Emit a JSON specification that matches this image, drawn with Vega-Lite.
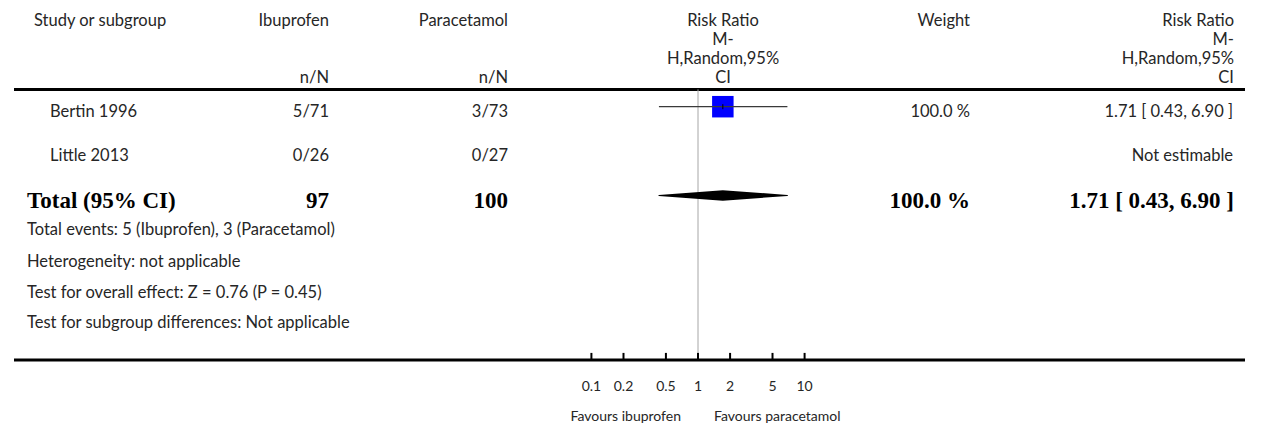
{
  "$schema": "https://vega.github.io/schema/vega-lite/v6.json",
  "padding": {"left": 12, "right": 29, "top": 0, "bottom": 0},
  "spacing": 0,
  "bounds": "flush",
  "background": "white",
  "config": {
    "view": {"stroke": null},
    "text": {"font": "Lato", "fontSize": 16.5, "color": "#262626", "baseline": "middle"}
  },
  "datasets": {
    "rules": [{"line": 4.6}, {"line": 18.84}],
    "headers": [
      {"col": "study", "line": 1, "text": "Study or subgroup"},
      {"col": "ibu", "line": 1, "text": "Ibuprofen"},
      {"col": "ibu", "line": 4, "text": "n/N"},
      {"col": "para", "line": 1, "text": "Paracetamol"},
      {"col": "para", "line": 4, "text": "n/N"},
      {"col": "forest", "line": 1, "text": "Risk Ratio"},
      {"col": "forest", "line": 2, "text": "M-"},
      {"col": "forest", "line": 3, "text": "H,Random,95%"},
      {"col": "forest", "line": 4, "text": "CI"},
      {"col": "weight", "line": 1, "text": "Weight"},
      {"col": "ci", "line": 1, "text": "Risk Ratio"},
      {"col": "ci", "line": 2, "text": "M-"},
      {"col": "ci", "line": 3, "text": "H,Random,95%"},
      {"col": "ci", "line": 4, "text": "CI"}
    ],
    "studies": [
      {"study": "Bertin 1996", "ibu": "5/71", "para": "3/73", "weight": "100.0 %", "ci": "1.71 [ 0.43, 6.90 ]", "rr": 1.71, "lo": 0.43, "hi": 6.90, "line": 5.8},
      {"study": "Little 2013", "ibu": "0/26", "para": "0/27", "weight": "", "ci": "Not estimable", "line": 8.1}
    ],
    "total": [
      {"study": "Total (95% CI)", "ibu": "97", "para": "100", "weight": "100.0 %", "ci": "1.71 [ 0.43, 6.90 ]", "rr": 1.71, "lo": 0.43, "hi": 6.90, "line": 10.5}
    ],
    "diamond": [
      {"rr": 0.43, "w": 0, "line": 10.5},
      {"rr": 1.71, "w": 1, "line": 10.5},
      {"rr": 6.90, "w": 0, "line": 10.5}
    ],
    "notes": [
      {"line": 12.0, "text": "Total events: 5 (Ibuprofen), 3 (Paracetamol)"},
      {"line": 13.7, "text": "Heterogeneity: not applicable"},
      {"line": 15.3, "text": "Test for overall effect: Z = 0.76 (P = 0.45)"},
      {"line": 16.9, "text": "Test for subgroup differences: Not applicable"}
    ],
    "refline": [{"rr": 1}],
    "ticks": [
      {"rr": 0.1, "label": "0.1"},
      {"rr": 0.2, "label": "0.2"},
      {"rr": 0.5, "label": "0.5"},
      {"rr": 1, "label": "1"},
      {"rr": 2, "label": "2"},
      {"rr": 5, "label": "5"},
      {"rr": 10, "label": "10"}
    ],
    "favours": [
      {"rr": 1, "side": "left", "text": "Favours ibuprofen"},
      {"rr": 1, "side": "right", "text": "Favours paracetamol"}
    ]
  },
  "hconcat": [
    {
      "width": 248, "height": 427,
      "layer": [
        {"data": {"name": "rules"}, "mark": {"type": "rule", "strokeWidth": 3, "color": "black"},
         "encoding": {"y": {"field": "line", "type": "quantitative", "scale": {"domain": [-0.105, 22.37], "reverse": true, "nice": false, "zero": false}, "axis": null}}},
        {"data": {"name": "headers"}, "transform": [{"filter": "datum.col === 'study'"}],
         "mark": {"type": "text", "align": "left", "dx": 20},
         "encoding": {"x": {"value": 0}, "y": {"field": "line", "type": "quantitative"}, "text": {"field": "text"}}},
        {"data": {"name": "studies"},
         "mark": {"type": "text", "align": "left", "dx": 36},
         "encoding": {"x": {"value": 0}, "y": {"field": "line", "type": "quantitative"}, "text": {"field": "study"}}},
        {"data": {"name": "total"},
         "mark": {"type": "text", "align": "left", "dx": 13, "font": "Liberation Serif", "fontWeight": "bold", "fontSize": 23, "color": "black"},
         "encoding": {"x": {"value": 0}, "y": {"field": "line", "type": "quantitative"}, "text": {"field": "study"}}},
        {"data": {"name": "notes"},
         "mark": {"type": "text", "align": "left", "dx": 13},
         "encoding": {"x": {"value": 0}, "y": {"field": "line", "type": "quantitative"}, "text": {"field": "text"}}}
      ]
    },
    {
      "width": 67, "height": 427,
      "layer": [
        {"data": {"name": "rules"}, "mark": {"type": "rule", "strokeWidth": 3, "color": "black"},
         "encoding": {"y": {"field": "line", "type": "quantitative", "scale": {"domain": [-0.105, 22.37], "reverse": true, "nice": false, "zero": false}, "axis": null}}},
        {"data": {"name": "headers"}, "transform": [{"filter": "datum.col === 'ibu'"}],
         "mark": {"type": "text", "align": "right"},
         "encoding": {"x": {"value": "width"}, "y": {"field": "line", "type": "quantitative"}, "text": {"field": "text"}}},
        {"data": {"name": "studies"},
         "mark": {"type": "text", "align": "right"},
         "encoding": {"x": {"value": "width"}, "y": {"field": "line", "type": "quantitative"}, "text": {"field": "ibu"}}},
        {"data": {"name": "total"},
         "mark": {"type": "text", "align": "right", "font": "Liberation Serif", "fontWeight": "bold", "fontSize": 23, "color": "black"},
         "encoding": {"x": {"value": "width"}, "y": {"field": "line", "type": "quantitative"}, "text": {"field": "ibu"}}}
      ]
    },
    {
      "width": 179, "height": 427,
      "layer": [
        {"data": {"name": "rules"}, "mark": {"type": "rule", "strokeWidth": 3, "color": "black"},
         "encoding": {"y": {"field": "line", "type": "quantitative", "scale": {"domain": [-0.105, 22.37], "reverse": true, "nice": false, "zero": false}, "axis": null}}},
        {"data": {"name": "headers"}, "transform": [{"filter": "datum.col === 'para'"}],
         "mark": {"type": "text", "align": "right"},
         "encoding": {"x": {"value": "width"}, "y": {"field": "line", "type": "quantitative"}, "text": {"field": "text"}}},
        {"data": {"name": "studies"},
         "mark": {"type": "text", "align": "right"},
         "encoding": {"x": {"value": "width"}, "y": {"field": "line", "type": "quantitative"}, "text": {"field": "para"}}},
        {"data": {"name": "total"},
         "mark": {"type": "text", "align": "right", "font": "Liberation Serif", "fontWeight": "bold", "fontSize": 23, "color": "black"},
         "encoding": {"x": {"value": "width"}, "y": {"field": "line", "type": "quantitative"}, "text": {"field": "para"}}}
      ]
    },
    {
      "width": 380, "height": 427,
      "layer": [
        {"data": {"name": "rules"}, "mark": {"type": "rule", "strokeWidth": 3, "color": "black"},
         "encoding": {"y": {"field": "line", "type": "quantitative", "scale": {"domain": [-0.105, 22.37], "reverse": true, "nice": false, "zero": false}, "axis": null}}},
        {"data": {"name": "refline"}, "mark": {"type": "rule", "strokeWidth": 1, "color": "#a6a6a6"},
         "encoding": {"x": {"field": "rr", "type": "quantitative", "scale": {"type": "log", "domain": [0.0165, 60.6], "nice": false}, "axis": null},
                      "y": {"datum": 4.6, "type": "quantitative"}, "y2": {"datum": 18.84}}},
        {"data": {"name": "headers"}, "transform": [{"filter": "datum.col === 'forest'"}],
         "mark": {"type": "text", "align": "center", "dx": 25},
         "encoding": {"x": {"datum": 1, "type": "quantitative"}, "y": {"field": "line", "type": "quantitative"}, "text": {"field": "text"}}},
        {"data": {"name": "studies"}, "transform": [{"filter": "isValid(datum.rr)"}],
         "mark": {"type": "square", "size": 462, "filled": true, "color": "#0000ff", "opacity": 1, "yOffset": -5.5},
         "encoding": {"x": {"field": "rr", "type": "quantitative"}, "y": {"field": "line", "type": "quantitative"}}},
        {"data": {"name": "studies"}, "transform": [{"filter": "isValid(datum.rr)"}],
         "mark": {"type": "rule", "strokeWidth": 1.2, "color": "#3a3a3a", "yOffset": -5.5},
         "encoding": {"x": {"field": "lo", "type": "quantitative"}, "x2": {"field": "hi"}, "y": {"field": "line", "type": "quantitative"}}},
        {"data": {"name": "studies"}, "transform": [{"filter": "isValid(datum.rr)"}],
         "mark": {"type": "rule", "strokeWidth": 1, "color": "black", "yOffset": -8, "y2Offset": -3},
         "encoding": {"x": {"field": "rr", "type": "quantitative"}, "y": {"field": "line", "type": "quantitative"}, "y2": {"field": "line"}}},
        {"data": {"name": "diamond"},
         "mark": {"type": "trail", "color": "black", "yOffset": -6},
         "encoding": {"x": {"field": "rr", "type": "quantitative"}, "y": {"field": "line", "type": "quantitative"},
                      "size": {"field": "w", "type": "quantitative", "scale": {"domain": [0, 1], "range": [0, 10.5], "zero": true}, "legend": null}}},
        {"data": {"name": "ticks"}, "mark": {"type": "rule", "strokeWidth": 2, "color": "black"},
         "encoding": {"x": {"field": "rr", "type": "quantitative"}, "y": {"datum": 18.84, "type": "quantitative"}, "y2": {"datum": 18.47}}},
        {"data": {"name": "ticks"}, "mark": {"type": "text", "align": "center", "fontSize": 14},
         "encoding": {"x": {"field": "rr", "type": "quantitative"}, "y": {"datum": 20.26, "type": "quantitative"}, "text": {"field": "label"}}},
        {"data": {"name": "favours"}, "transform": [{"filter": "datum.side === 'left'"}],
         "mark": {"type": "text", "align": "right", "dx": -17, "fontSize": 14},
         "encoding": {"x": {"field": "rr", "type": "quantitative"}, "y": {"datum": 21.84, "type": "quantitative"}, "text": {"field": "text"}}},
        {"data": {"name": "favours"}, "transform": [{"filter": "datum.side === 'right'"}],
         "mark": {"type": "text", "align": "left", "dx": 16, "fontSize": 14},
         "encoding": {"x": {"field": "rr", "type": "quantitative"}, "y": {"datum": 21.84, "type": "quantitative"}, "text": {"field": "text"}}}
      ]
    },
    {
      "width": 82, "height": 427,
      "layer": [
        {"data": {"name": "rules"}, "mark": {"type": "rule", "strokeWidth": 3, "color": "black"},
         "encoding": {"y": {"field": "line", "type": "quantitative", "scale": {"domain": [-0.105, 22.37], "reverse": true, "nice": false, "zero": false}, "axis": null}}},
        {"data": {"name": "headers"}, "transform": [{"filter": "datum.col === 'weight'"}],
         "mark": {"type": "text", "align": "right"},
         "encoding": {"x": {"value": "width"}, "y": {"field": "line", "type": "quantitative"}, "text": {"field": "text"}}},
        {"data": {"name": "studies"},
         "mark": {"type": "text", "align": "right"},
         "encoding": {"x": {"value": "width"}, "y": {"field": "line", "type": "quantitative"}, "text": {"field": "weight"}}},
        {"data": {"name": "total"},
         "mark": {"type": "text", "align": "right", "font": "Liberation Serif", "fontWeight": "bold", "fontSize": 23, "color": "black"},
         "encoding": {"x": {"value": "width"}, "y": {"field": "line", "type": "quantitative"}, "text": {"field": "weight"}}}
      ]
    },
    {
      "width": 275, "height": 427,
      "layer": [
        {"data": {"name": "rules"}, "mark": {"type": "rule", "strokeWidth": 3, "color": "black"},
         "encoding": {"y": {"field": "line", "type": "quantitative", "scale": {"domain": [-0.105, 22.37], "reverse": true, "nice": false, "zero": false}, "axis": null}}},
        {"data": {"name": "headers"}, "transform": [{"filter": "datum.col === 'ci'"}],
         "mark": {"type": "text", "align": "right", "dx": -11},
         "encoding": {"x": {"value": "width"}, "y": {"field": "line", "type": "quantitative"}, "text": {"field": "text"}}},
        {"data": {"name": "studies"},
         "mark": {"type": "text", "align": "right", "dx": -12},
         "encoding": {"x": {"value": "width"}, "y": {"field": "line", "type": "quantitative"}, "text": {"field": "ci"}}},
        {"data": {"name": "total"},
         "mark": {"type": "text", "align": "right", "dx": -11, "font": "Liberation Serif", "fontWeight": "bold", "fontSize": 23, "color": "black"},
         "encoding": {"x": {"value": "width"}, "y": {"field": "line", "type": "quantitative"}, "text": {"field": "ci"}}}
      ]
    }
  ]
}
